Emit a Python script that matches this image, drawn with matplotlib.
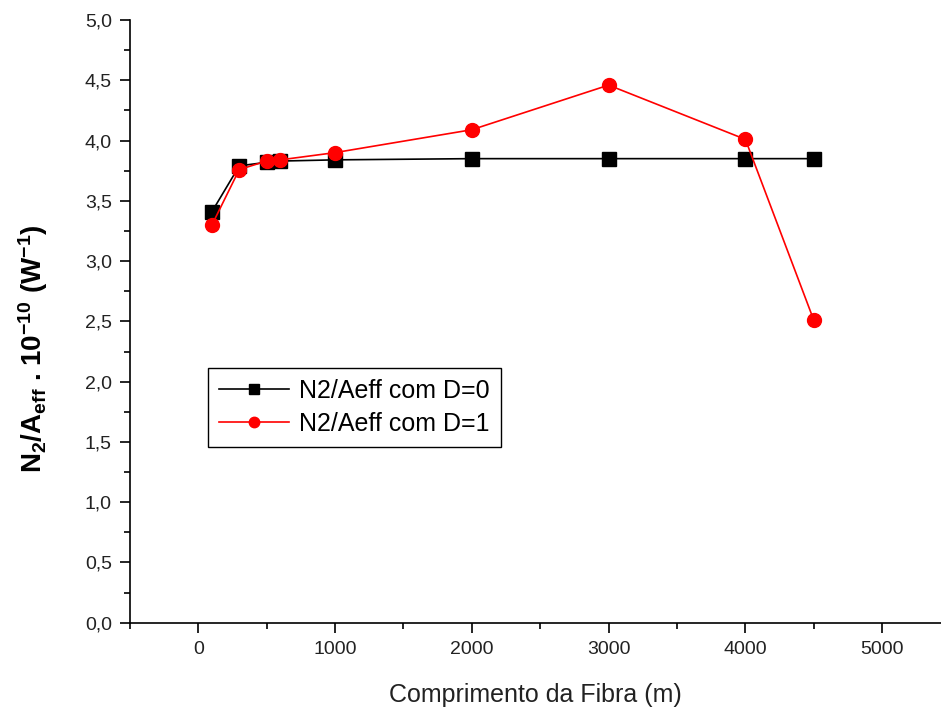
import matplotlib.pyplot as plt
from matplotlib.ticker import MultipleLocator, FuncFormatter

plt.rcParams['font.family'] = ['Liberation Sans', 'DejaVu Sans']
plt.rcParams['mathtext.fontset'] = 'custom'
plt.rcParams['mathtext.rm'] = 'Liberation Sans'
plt.rcParams['mathtext.bf'] = 'Liberation Sans:bold'
plt.rcParams['mathtext.default'] = 'bf'

comprimento = [100, 300, 500, 600, 1000, 2000, 3000, 4000, 4500]
n2_d0 = [3.41, 3.79, 3.82, 3.83, 3.84, 3.85, 3.85, 3.85, 3.85]
n2_d1 = [3.30, 3.76, 3.83, 3.84, 3.90, 4.09, 4.46, 4.01, 2.51]

fig = plt.figure(figsize=(9.41, 7.15), dpi=100)
ax = fig.add_axes([0.138, 0.129, 0.862, 0.843])

ax.plot(comprimento, n2_d0, color="black", lw=1.2, marker="s", ms=9.5,
        label="N2/Aeff com D=0")
ax.plot(comprimento, n2_d1, color="red", lw=1.2, marker="o", ms=10,
        label="N2/Aeff com D=1")

ax.set_xlim(-500, 5430)
ax.set_ylim(0, 5)
ax.xaxis.set_major_locator(MultipleLocator(1000))
ax.xaxis.set_minor_locator(MultipleLocator(500))
ax.yaxis.set_major_locator(MultipleLocator(0.5))
ax.yaxis.set_minor_locator(MultipleLocator(0.25))
ax.yaxis.set_major_formatter(FuncFormatter(lambda v, p: f"{v:.1f}".replace(".", ",")))
ax.xaxis.set_major_formatter(FuncFormatter(lambda v, p: f"{v:.0f}"))

for s in ["top", "right"]:
    ax.spines[s].set_visible(False)
for s in ["left", "bottom"]:
    ax.spines[s].set_linewidth(1.2)
ax.tick_params(which="major", direction="out", length=7, width=1.2,
               labelsize=14, colors="black", labelcolor="#222222", pad=6)
ax.tick_params(which="minor", direction="out", length=4, width=1.2)

ax.set_xlabel("Comprimento da Fibra (m)", fontsize=18, color="#222222", labelpad=18)
ax.set_ylabel(r"N$_2$/A$_{eff}$ . 10$^{-10}$ (W$^{-1}$)",
              fontsize=20, fontweight="bold")
ax.yaxis.set_label_coords(-0.098, 0.455)

leg = ax.legend(loc="upper left", bbox_to_anchor=(0.096, 0.423), borderaxespad=0,
                fontsize=18, fancybox=False, framealpha=1, edgecolor="black",
                markerscale=0.75, handlelength=2.8, handletextpad=0.4,
                borderpad=0.45, labelspacing=0.35)
leg.get_frame().set_linewidth(1.0)

fig.savefig("out.png", dpi=100)
